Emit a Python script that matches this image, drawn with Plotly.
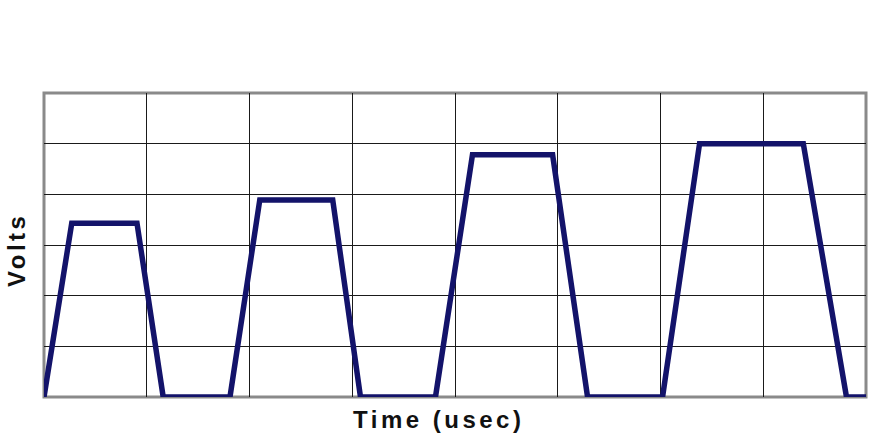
import plotly.graph_objects as go

# Waveform vertices (time in grid units, volts in grid units)
time_pts = [0.0, 0.27, 0.905, 1.16, 1.81, 2.10, 2.81, 3.08, 3.81, 4.17, 4.95, 5.29, 6.02, 6.38, 7.39, 7.81, 8.0]
volt_pts = [0.0, 3.43, 3.43, 0.0, 0.0, 3.89, 3.89, 0.0, 0.0, 4.78, 4.78, 0.0, 0.0, 5.0, 5.0, 0.0, 0.0]

x_title = "Time (usec)"
y_title = "Volts"

fig = go.Figure()
fig.add_trace(go.Scatter(
    x=time_pts, y=volt_pts, mode="lines",
    line=dict(color="#13136a", width=5.5),
    cliponaxis=False, hoverinfo="skip", showlegend=False,
))

W, H = 880, 440
ml, mr, mt, mb = 44, 14, 93, 43

fig.update_layout(
    width=W, height=H,
    margin=dict(l=ml, r=mr, t=mt, b=mb, pad=0),
    paper_bgcolor="white", plot_bgcolor="white",
    showlegend=False,
    xaxis=dict(range=[0, 8], dtick=1, tick0=0, showgrid=True, gridcolor="#1a1a1a", gridwidth=1,
               showticklabels=False, ticks="", zeroline=False, showline=False, fixedrange=True),
    yaxis=dict(range=[0, 6], dtick=1, tick0=0, showgrid=True, gridcolor="#1a1a1a", gridwidth=1,
               showticklabels=False, ticks="", zeroline=False, showline=False, fixedrange=True),
    shapes=[dict(type="rect", xref="paper", yref="paper", x0=0, x1=1, y0=0, y1=1,
                 line=dict(color="#8a8a8a", width=3), layer="below")],
    annotations=[
        dict(text='<b><span style="letter-spacing:3.5px">' + x_title + '</span></b>',
             xref="paper", yref="paper", x=(438 - ml) / (W - ml - mr), y=-(419 - (H - mb)) / (H - mt - mb),
             xanchor="center", yanchor="middle", showarrow=False,
             font=dict(family="Liberation Sans", size=24, color="#111111")),
        dict(text='<b><span style="letter-spacing:3.5px">' + y_title + '</span></b>',
             xref="paper", yref="paper", x=-(ml - 16) / (W - ml - mr), y=((H - mb) - 250) / (H - mt - mb),
             xanchor="center", yanchor="middle", showarrow=False, textangle=-90,
             font=dict(family="Liberation Sans", size=24, color="#111111")),
    ],
)

fig.write_html("out.html", config={"displayModeBar": False},
               post_script="document.body.style.margin='0';document.body.style.overflow='hidden';")
